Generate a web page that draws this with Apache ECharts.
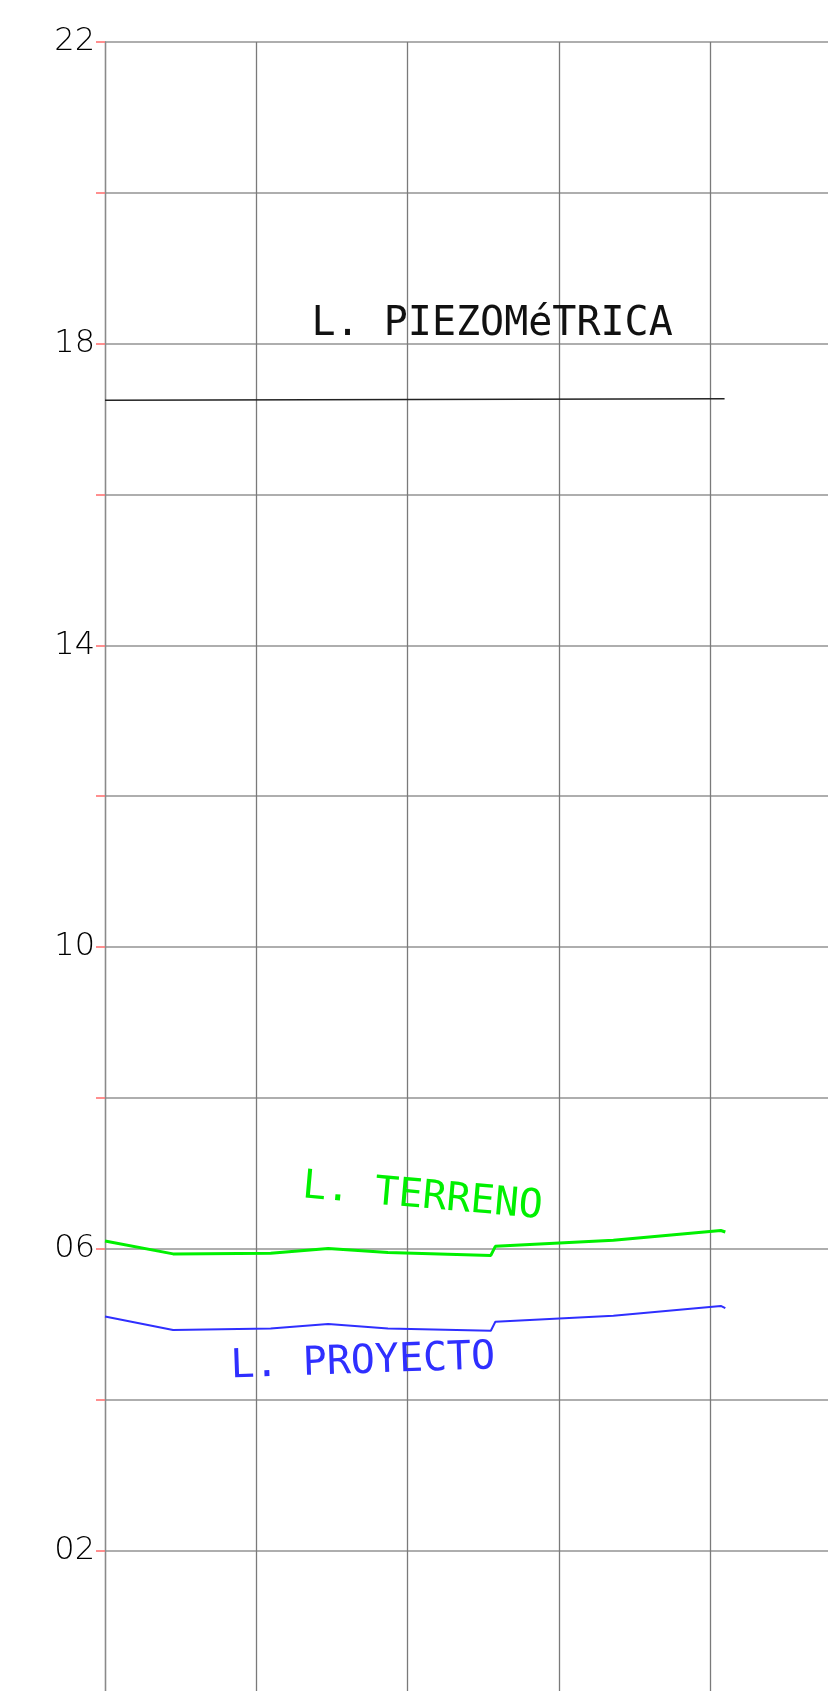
<!DOCTYPE html>
<html>
<head>
<meta charset="utf-8">
<script src="https://cdn.jsdelivr.net/npm/echarts@6/dist/echarts.min.js"></script>
<style>
  *{ margin:0; padding:0; }
  html, body{ background:#fff; overflow:hidden; width:828px; height:1691px; }
</style>
</head>
<body>
<!-- el lienzo es algo mayor que la ventana: la reticula sigue fuera del recorte -->
<div id="main" style="width:880px;height:1720px;"></div>
<script>
var yTicks = [22, 18, 14, 10, 6, 2];
var yTickLabels = ['22', '18', '14', '10', '06', '02'];

var estaciones = [0, 9.0, 21.9, 29.5, 37.4, 51.0, 51.6, 67.2, 81.4, 82.0];
var terreno    = [6.10, 5.93, 5.94, 6.00, 5.95, 5.91, 6.03, 6.11, 6.24, 6.22];
var proyecto   = [5.10, 4.92, 4.94, 5.00, 4.94, 4.91, 5.03, 5.11, 5.24, 5.21];

var piezoX = [0, 81.9];
var piezoY = [17.25, 17.27];

function pares(xs, ys) {
    return xs.map(function (x, i) { return [x, ys[i]]; });
}

var cadFont = 'DejaVu Sans Mono';

function etiqueta(texto, coord, color, angulo) {
    return {
        symbol: 'circle',
        symbolSize: 0,
        silent: true,
        itemStyle: { color: 'rgba(0,0,0,0)' },
        label: {
            show: true,
            position: [0, 0],
            align: 'left',
            verticalAlign: 'middle',
            rotate: angulo,
            color: color,
            fontFamily: cadFont,
            fontSize: 40,
            formatter: texto
        },
        data: [{ coord: coord }]
    };
}

var chart = echarts.init(document.getElementById('main'));

var option = {
    animation: false,
    backgroundColor: '#fff',
    grid: { left: 105, top: 42, width: 756.5, height: 1659.1 },
    xAxis: {
        type: 'value',
        min: 0,
        max: 100,
        interval: 20,
        axisLine: { show: false },
        axisTick: { show: false },
        axisLabel: { show: false },
        splitLine: { show: true, lineStyle: { color: '#7a7a7a', width: 1.3 } }
    },
    yAxis: {
        type: 'value',
        min: 0,
        max: 22,
        interval: 2,
        axisLine: { show: true, lineStyle: { color: '#8a8a8a', width: 1.3 } },
        axisTick: { show: true, length: 9, lineStyle: { color: '#ff6b6b', width: 1.5 } },
        axisLabel: {
            margin: 10,
            color: '#000',
            fontFamily: 'DejaVu Sans',
            fontWeight: 200,
            fontSize: 32,
            padding: [0, 0, 8, 0],
            formatter: function (v) {
                var i = yTicks.indexOf(v);
                return i < 0 ? '' : yTickLabels[i];
            }
        },
        splitLine: { show: true, lineStyle: { color: '#939393', width: 1.6 } }
    },
    series: [
        {
            name: 'L. PIEZOMéTRICA',
            type: 'line',
            data: pares(piezoX, piezoY),
            symbol: 'none',
            lineStyle: { color: '#222', width: 1.5 },
            markPoint: etiqueta('L. PIEZOMéTRICA', [27.3, 18.25], '#111', 0)
        },
        {
            name: 'L. TERRENO',
            type: 'line',
            data: pares(estaciones, terreno),
            symbol: 'none',
            lineStyle: { color: '#00f000', width: 3 },
            markPoint: etiqueta('L. TERRENO', [26.1, 6.82], '#00f000', -5)
        },
        {
            name: 'L. PROYECTO',
            type: 'line',
            data: pares(estaciones, proyecto),
            symbol: 'none',
            lineStyle: { color: '#2f2fff', width: 2 },
            markPoint: etiqueta('L. PROYECTO', [16.6, 4.43], '#2f2fff', 2)
        }
    ]
};

chart.setOption(option);
</script>
</body>
</html>
